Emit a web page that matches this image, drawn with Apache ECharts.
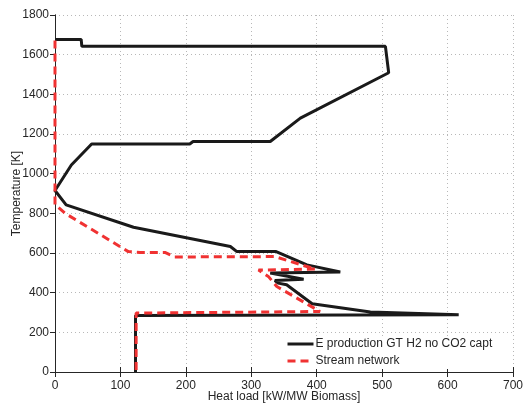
<!DOCTYPE html>
<html>
<head>
<meta charset="utf-8">
<script src="https://cdn.jsdelivr.net/npm/echarts@6/dist/echarts.min.js"></script>
<style>
  html, body { margin: 0; padding: 0; background: #fff; }
  #chart { width: 528px; height: 403px; }
</style>
</head>
<body>
<div id="chart"></div>
<script>
var xTicks = [0, 100, 200, 300, 400, 500, 600, 700]
var yTicks = [0, 200, 400, 600, 800, 1000, 1200, 1400, 1600, 1800]

// E production curve
var prodLoad = [0, 40, 41, 505, 510, 375, 329, 211, 206, 56, 25, 0, 17, 120, 268, 278, 338, 385, 436, 329, 380, 336, 341, 354, 393, 482, 617, 617, 123, 123]
var prodTemp = [1677, 1677, 1642, 1642, 1509, 1280, 1162, 1162, 1150, 1150, 1044, 915, 843, 730, 633, 607, 607, 540, 504, 499, 468, 461, 448, 440, 344, 302, 289, 285, 285, 0]

// stream network curve
var netLoad = [0, 0, 15, 112, 130, 168, 183, 336, 377, 398, 311, 326, 339, 405, 408, 124, 124]
var netTemp = [1672, 844, 801, 607, 603, 603, 580, 582, 540, 519, 514, 482, 431, 305, 297, 297, 0]

var seriesNames = ["E production GT H2 no CO2 capt", "Stream network"]

function pairs(xs, ys) {
  var out = []
  for (var i = 0; i < xs.length; i++) {
    out.push([xs[i], ys[i]])
  }
  return out
}

var font = "Liberation Sans"
var textCol = "#262626"

function mainAxis(ticks, name, gap, extra) {
  var ax = {
    type: "value",
    min: ticks[0],
    max: ticks[ticks.length - 1],
    interval: ticks[1] - ticks[0],
    name: name,
    nameLocation: "middle",
    nameGap: gap,
    nameMoveOverlap: false,
    nameTextStyle: { fontFamily: font, fontSize: 12, color: textCol },
    axisLine: { show: true, lineStyle: { color: "#262626", width: 1 } },
    axisTick: { show: true, inside: true, length: 5, lineStyle: { color: "#262626" } },
    axisLabel: {
      fontFamily: font, fontSize: 12, color: textCol, margin: 8,
      formatter: function (v) { return String(v) }
    },
    splitLine: { show: true, lineStyle: { color: "#b8b8b8", type: [1, 3], width: 1 } }
  }
  for (var k in extra) ax[k] = extra[k]
  return ax
}

function mirrorAxis(ticks, pos) {
  return {
    type: "value",
    position: pos,
    min: ticks[0],
    max: ticks[ticks.length - 1],
    interval: ticks[1] - ticks[0],
    axisLine: { show: true, lineStyle: { color: "#262626", width: 1 } },
    axisTick: { show: true, inside: true, length: 5, lineStyle: { color: "#262626" } },
    axisLabel: { show: false },
    splitLine: { show: false }
  }
}

var yMain = mainAxis(yTicks, "Temperature [K]", 32, { position: "left" })
yMain.axisTick = { show: true, inside: false, length: 3, lineStyle: { color: "#262626" } }
yMain.axisLabel.margin = 6

var chart = echarts.init(document.getElementById("chart"))
chart.setOption({
  animation: false,
  backgroundColor: "#fff",
  grid: { left: 55, right: 15, top: 15, bottom: 31, containLabel: false, outerBoundsMode: "none" },
  xAxis: [
    mainAxis(xTicks, "Heat load [kW/MW Biomass]", 19, { position: "bottom" }),
    mirrorAxis(xTicks, "top")
  ],
  yAxis: [
    yMain,
    mirrorAxis(yTicks, "right")
  ],
  legend: {
    left: 284,
    top: 336,
    orient: "vertical",
    itemWidth: 26,
    itemHeight: 10,
    itemGap: 5,
    padding: [2, 6, 2, 2],
    backgroundColor: "#fff",
    itemStyle: { opacity: 0 },
    lineStyle: { width: 3 },
    textStyle: { fontFamily: font, fontSize: 12, color: textCol, padding: [0, 0, 0, -3] },
    data: seriesNames
  },
  series: [
    {
      name: seriesNames[0],
      type: "line",
      symbol: "none",
      data: pairs(prodLoad, prodTemp),
      lineStyle: { color: "#1a1a1a", width: 3 },
      itemStyle: { color: "#1a1a1a" },
      z: 2
    },
    {
      name: seriesNames[1],
      type: "line",
      symbol: "none",
      data: pairs(netLoad, netTemp),
      lineStyle: { color: "#f03232", width: 3, type: [8, 5] },
      itemStyle: { color: "#f03232" },
      z: 3
    }
  ]
})
</script>
</body>
</html>
